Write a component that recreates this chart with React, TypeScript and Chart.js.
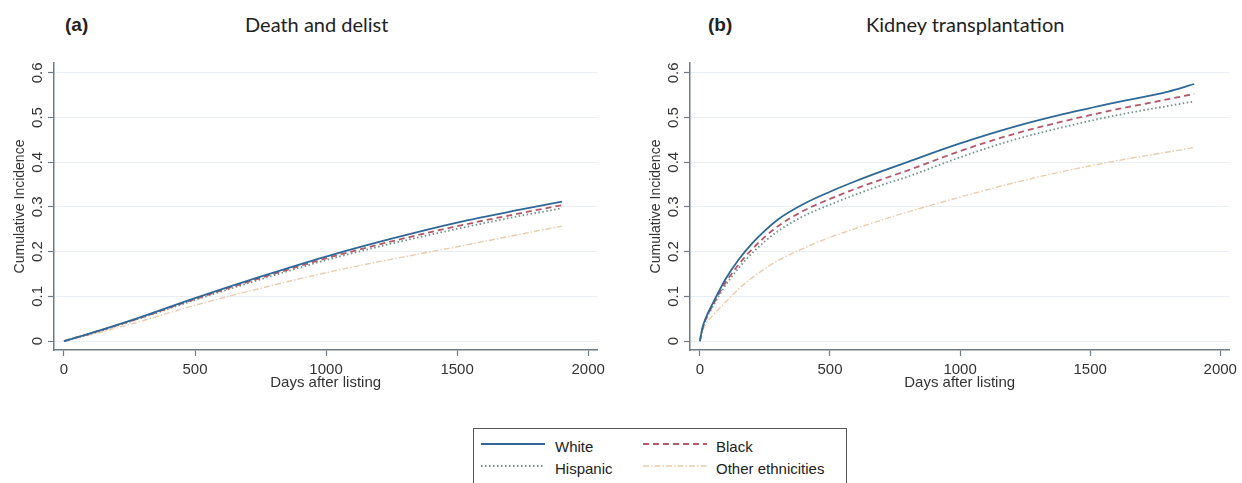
import React, { useEffect, useRef } from "react";
import { Chart, registerables } from "chart.js";

Chart.register(...registerables);

// ---------- data ----------
const DAYS_A = [0, 100, 250, 500, 750, 1000, 1250, 1500, 1750, 1900];
const WHITE_A = [0, 0.017, 0.045, 0.096, 0.144, 0.189, 0.229, 0.265, 0.295, 0.312];
const BLACK_A = [0, 0.017, 0.044, 0.094, 0.141, 0.185, 0.223, 0.257, 0.287, 0.304];
const HISPANIC_A = [0, 0.016, 0.043, 0.092, 0.138, 0.181, 0.218, 0.251, 0.281, 0.297];
const OTHER_A = [0, 0.014, 0.037, 0.08, 0.118, 0.153, 0.183, 0.211, 0.24, 0.257];

const DAYS_B = [0, 10, 25, 50, 100, 150, 200, 250, 300, 400, 500, 600, 700, 800, 1000, 1200, 1400, 1600, 1800, 1900];
const WHITE_B = [0, 0.03, 0.055, 0.085, 0.14, 0.183, 0.218, 0.247, 0.272, 0.307, 0.334, 0.358, 0.38, 0.401, 0.442, 0.478, 0.508, 0.534, 0.558, 0.575];
const BLACK_B = [0, 0.028, 0.052, 0.081, 0.132, 0.172, 0.205, 0.233, 0.257, 0.292, 0.318, 0.341, 0.362, 0.382, 0.425, 0.462, 0.492, 0.518, 0.541, 0.553];
const HISPANIC_B = [0, 0.027, 0.05, 0.078, 0.126, 0.164, 0.196, 0.223, 0.246, 0.28, 0.305, 0.328, 0.349, 0.368, 0.411, 0.449, 0.479, 0.505, 0.526, 0.536];
const OTHER_B = [0, 0.022, 0.04, 0.058, 0.088, 0.117, 0.141, 0.162, 0.18, 0.208, 0.232, 0.252, 0.271, 0.289, 0.322, 0.353, 0.38, 0.403, 0.423, 0.433];

const Y_TICKS = [0, 0.1, 0.2, 0.3, 0.4, 0.5, 0.6];
const X_TICKS = [0, 500, 1000, 1500, 2000];
const SERIES_NAMES = ["White", "Black", "Hispanic", "Other ethnicities"];

// ---------- styles ----------
const FONT = "'Liberation Sans', Arial, Helvetica, sans-serif";
const AXIS = "#6e7b87";
const GRID = "#e8eef3";
const TEXT = "#333333";
const STYLES = [
  { color: "#2f6797", dash: [] as number[], width: 1.8 },
  { color: "#b3596a", dash: [6, 4], width: 1.8 },
  { color: "#6f8f82", dash: [1.5, 2.5], width: 1.8 },
  { color: "#e8cdaf", dash: [6, 2, 1.5, 2], width: 1.4 },
];

type PanelProps = {
  days: number[];
  series: number[][];
  left: number;
  width: number;
  padRight: number;
};

function Panel({ days, series, left, width, padRight }: PanelProps) {
  const ref = useRef<HTMLCanvasElement | null>(null);
  useEffect(() => {
    if (!ref.current) return;
    const chart = new Chart(ref.current, {
      type: "line",
      data: {
        datasets: series.map((vals, i) => ({
          label: SERIES_NAMES[i],
          data: days.map((d, j) => ({ x: d, y: vals[j] })),
          borderColor: STYLES[i].color,
          borderDash: STYLES[i].dash,
          borderWidth: STYLES[i].width,
          pointRadius: 0,
          cubicInterpolationMode: "monotone" as const,
          fill: false,
        })),
      },
      options: {
        animation: false,
        responsive: false,
        maintainAspectRatio: false,
        layout: { padding: { top: 13, right: padRight, bottom: 0, left: 0 } },
        plugins: { legend: { display: false }, tooltip: { enabled: false } },
        scales: {
          x: {
            type: "linear",
            min: -38,
            max: 2035,
            afterBuildTicks: (s: any) => {
              s.ticks = X_TICKS.map((v) => ({ value: v }));
            },
            afterFit: (s: any) => {
              s.height = 42;
            },
            ticks: {
              autoSkip: false,
              maxRotation: 0,
              padding: 5,
              color: TEXT,
              font: { family: FONT, size: 15 },
              callback: (v: any) => String(v),
            },
            grid: {
              drawOnChartArea: false,
              drawTicks: true,
              tickLength: 6,
              tickColor: AXIS,
              tickWidth: 1.2,
            },
            border: { display: true, color: AXIS, width: 1.5 },
            title: {
              display: true,
              text: "Days after listing",
              color: TEXT,
              font: { family: FONT, size: 15 },
              padding: { top: 0, bottom: 0 },
            },
          },
          y: {
            type: "linear",
            min: -0.02,
            max: 0.622,
            afterBuildTicks: (s: any) => {
              s.ticks = Y_TICKS.map((v) => ({ value: v }));
            },
            afterFit: (s: any) => {
              s.width = 54;
            },
            ticks: {
              autoSkip: false,
              minRotation: 90,
              maxRotation: 90,
              crossAlign: "center",
              padding: 0,
              color: TEXT,
              font: { family: FONT, size: 15 },
              callback: (v: any) => String(v),
            },
            grid: {
              color: GRID,
              lineWidth: 1,
              drawTicks: true,
              tickLength: 6,
              tickColor: AXIS,
              tickWidth: 1.2,
            },
            border: { display: true, color: AXIS, width: 1.5 },
            title: {
              display: true,
              text: "Cumulative Incidence",
              color: TEXT,
              font: { family: FONT, size: 14 },
              padding: { top: 12, bottom: 0 },
            },
          },
        },
      } as any,
    });
    return () => chart.destroy();
  }, []);
  return (
    <canvas
      ref={ref}
      width={width}
      height={342}
      style={{ position: "absolute", left, top: 50, width, height: 342 }}
    />
  );
}

function LegendSample({ idx }: { idx: number }) {
  const s = STYLES[idx];
  return (
    <svg width={64} height={10} style={{ display: "block" }}>
      <line
        x1={0}
        y1={5}
        x2={64}
        y2={5}
        stroke={s.color}
        strokeWidth={s.width}
        strokeDasharray={s.dash.length ? s.dash.join(" ") : undefined}
      />
    </svg>
  );
}

export default function App() {
  const titleStyle: React.CSSProperties = {
    position: "absolute",
    fontFamily: "Lato, 'Open Sans', sans-serif",
    fontSize: 20,
    lineHeight: "24px",
    color: "#222",
    whiteSpace: "nowrap",
  };
  const tagStyle: React.CSSProperties = {
    position: "absolute",
    fontFamily: FONT,
    fontWeight: "bold",
    fontSize: 19,
    lineHeight: "24px",
    color: "#222",
  };
  const legText: React.CSSProperties = {
    position: "absolute",
    fontFamily: FONT,
    fontSize: 15,
    lineHeight: "18px",
    color: "#222",
    whiteSpace: "nowrap",
  };
  return (
    <div
      style={{
        position: "absolute",
        left: 0,
        top: 0,
        width: 1242,
        height: 483,
        background: "#fff",
        overflow: "hidden",
      }}
    >
      <div style={{ ...tagStyle, left: 65, top: 13 }}>(a)</div>
      <div style={{ ...titleStyle, left: 245, top: 12 }}>Death and delist</div>
      <div style={{ ...tagStyle, left: 708, top: 13 }}>(b)</div>
      <div style={{ ...titleStyle, left: 866, top: 12 }}>Kidney transplantation</div>

      <Panel days={DAYS_A} series={[WHITE_A, BLACK_A, HISPANIC_A, OTHER_A]} left={0} width={610} padRight={10} />
      <Panel days={DAYS_B} series={[WHITE_B, BLACK_B, HISPANIC_B, OTHER_B]} left={636} width={606} padRight={4} />

      <div
        style={{
          position: "absolute",
          left: 473,
          top: 428,
          width: 374,
          height: 70,
          border: "1px solid #555",
          boxSizing: "border-box",
        }}
      />
      <div style={{ position: "absolute", left: 481, top: 439 }}><LegendSample idx={0} /></div>
      <div style={{ ...legText, left: 555, top: 438 }}>{SERIES_NAMES[0]}</div>
      <div style={{ position: "absolute", left: 643, top: 439 }}><LegendSample idx={1} /></div>
      <div style={{ ...legText, left: 716, top: 438 }}>{SERIES_NAMES[1]}</div>
      <div style={{ position: "absolute", left: 481, top: 461 }}><LegendSample idx={2} /></div>
      <div style={{ ...legText, left: 555, top: 460 }}>{SERIES_NAMES[2]}</div>
      <div style={{ position: "absolute", left: 643, top: 461 }}><LegendSample idx={3} /></div>
      <div style={{ ...legText, left: 716, top: 460 }}>{SERIES_NAMES[3]}</div>
    </div>
  );
}
